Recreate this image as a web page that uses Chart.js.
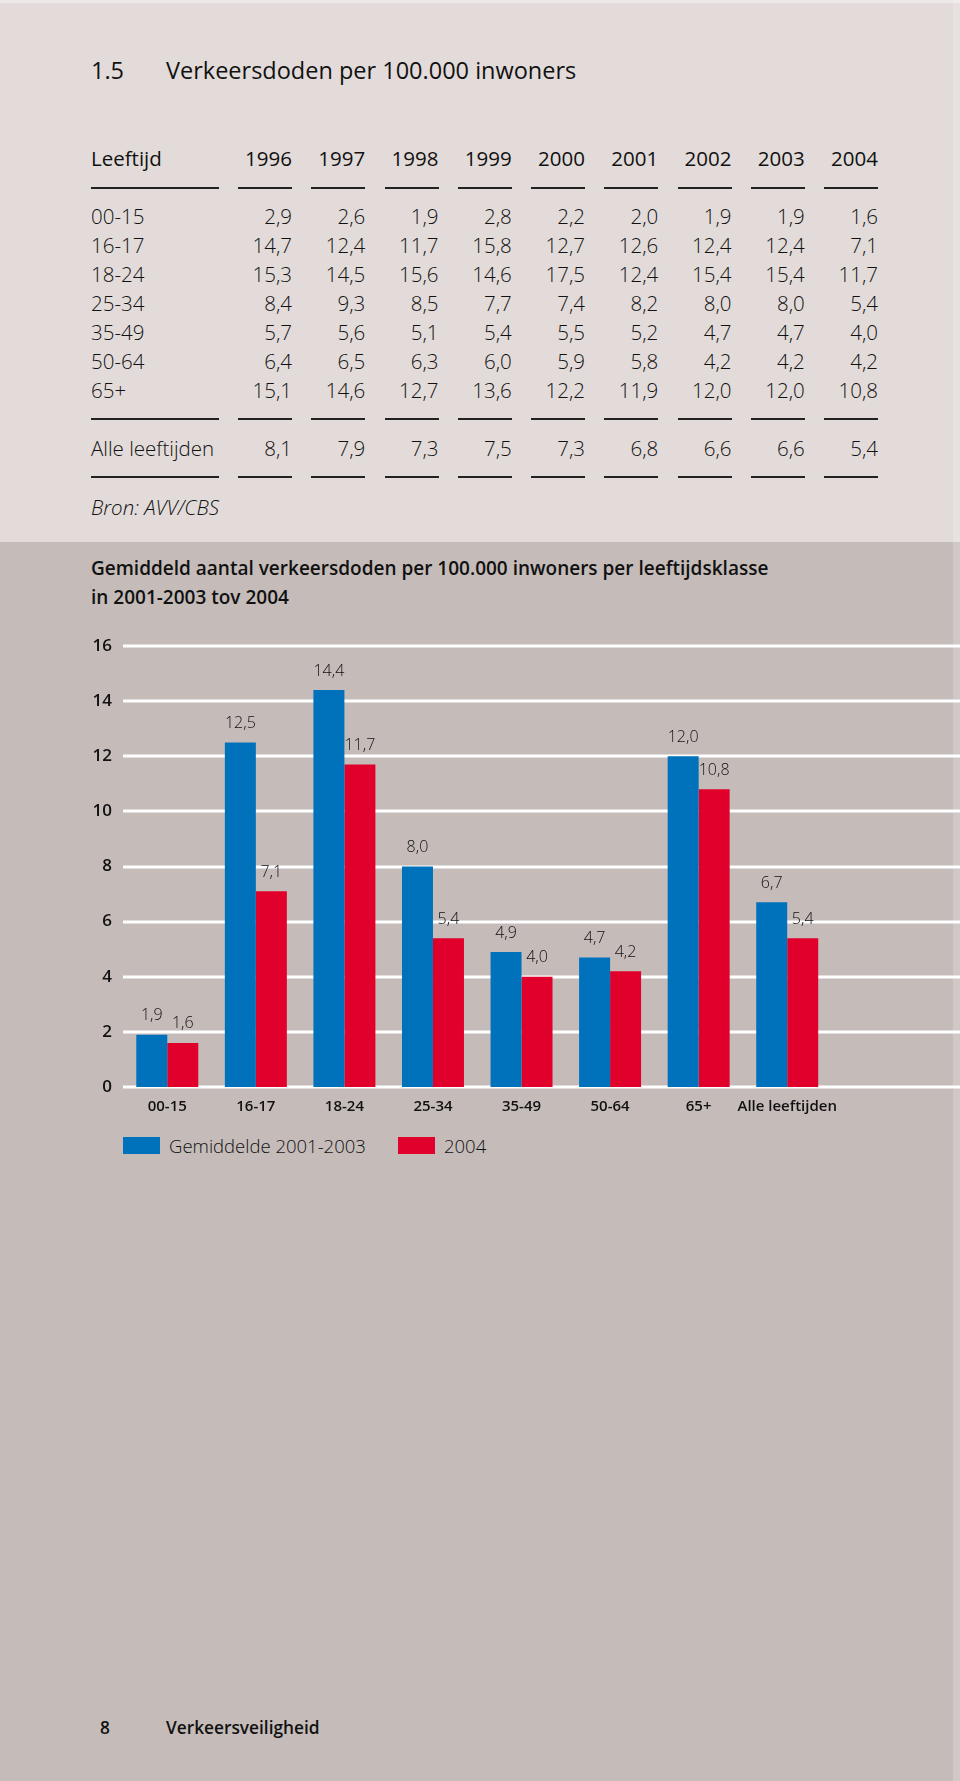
<!DOCTYPE html>
<html>
<head>
<meta charset="utf-8">
<script src="https://cdn.jsdelivr.net/npm/chart.js@4/dist/chart.umd.min.js"></script>
<style>
  html, body { margin: 0; padding: 0; }
  body {
    width: 960px;
    height: 1781px;
    position: relative;
    overflow: hidden;
    background: #c5bcba;
    font-family: 'Open Sans', 'Noto Sans', sans-serif;
    color: #111;
  }
  #top {
    position: absolute;
    left: 0; top: 0;
    width: 960px; height: 542px;
    background: #e2dbd9;
  }
  .edge-top { position: absolute; left: 0; top: 0; width: 960px; height: 3px; background: rgba(255,255,255,0.4); }
  .edge-right { position: absolute; right: 0; top: 0; width: 7px; height: 1781px; background: rgba(255,255,255,0.18); }
  .abs { position: absolute; white-space: nowrap; }
  .title { font-size: 23.5px; font-weight: 500; height: 30px; line-height: 30px; }
  .cell { height: 30px; line-height: 30px; font-size: 20.5px; font-weight: 300; }
  .head { font-weight: 500; }
  .num { text-align: right; width: 70px; }
  .rule { position: absolute; height: 2px; background: #222; }
  .src { font-style: italic; font-weight: 300; font-size: 20.5px; height: 30px; line-height: 30px; }
  .ctitle { font-size: 19px; font-weight: 600; line-height: 29px; }
  #wrap { position: absolute; left: 0; top: 620px; width: 960px; height: 507px; }
  .lg-box { position: absolute; width: 37px; height: 17px; }
  .lg-txt { font-size: 18.5px; font-weight: 300; height: 24px; line-height: 24px; }
  .foot { font-size: 17.3px; font-weight: 600; height: 24px; line-height: 24px; }
</style>
</head>
<body>
<div id="top"></div>
<div id="table"></div>
<div class="abs ctitle" style="left:91px; top:554px;">Gemiddeld aantal verkeersdoden per 100.000 inwoners per leeftijdsklasse<br>in 2001-2003 tov 2004</div>
<div id="wrap"><canvas id="chart"></canvas></div>
<div id="legend"></div>
<div class="abs foot" style="left:100px; top:1716px;">8</div>
<div class="abs foot" style="left:166px; top:1716px;">Verkeersveiligheid</div>
<div class="edge-top"></div>
<div class="edge-right"></div>

<script>
// table data
const years = ['1996', '1997', '1998', '1999', '2000', '2001', '2002', '2003', '2004']
const ageGroups = ['00-15', '16-17', '18-24', '25-34', '35-49', '50-64', '65+']
const rate0015 = [2.9, 2.6, 1.9, 2.8, 2.2, 2.0, 1.9, 1.9, 1.6]
const rate1617 = [14.7, 12.4, 11.7, 15.8, 12.7, 12.6, 12.4, 12.4, 7.1]
const rate1824 = [15.3, 14.5, 15.6, 14.6, 17.5, 12.4, 15.4, 15.4, 11.7]
const rate2534 = [8.4, 9.3, 8.5, 7.7, 7.4, 8.2, 8.0, 8.0, 5.4]
const rate3549 = [5.7, 5.6, 5.1, 5.4, 5.5, 5.2, 4.7, 4.7, 4.0]
const rate5064 = [6.4, 6.5, 6.3, 6.0, 5.9, 5.8, 4.2, 4.2, 4.2]
const rate65plus = [15.1, 14.6, 12.7, 13.6, 12.2, 11.9, 12.0, 12.0, 10.8]
const rateAll = [8.1, 7.9, 7.3, 7.5, 7.3, 6.8, 6.6, 6.6, 5.4]

// chart data
const categories = ['00-15', '16-17', '18-24', '25-34', '35-49', '50-64', '65+', 'Alle leeftijden']
const avg2001to2003 = [1.9, 12.5, 14.4, 8.0, 4.9, 4.7, 12.0, 6.7]
const values2004 = [1.6, 7.1, 11.7, 5.4, 4.0, 4.2, 10.8, 5.4]
const yTicks = [0, 2, 4, 6, 8, 10, 12, 14, 16]

const blue = '#0071bb'
const red = '#e0002b'

const fmt = v => v.toFixed(1).replace('.', ',')

// build the table
const table = document.getElementById('table')
const colRight = i => 292 + i * 73.25
const rowCenter = i => 216 + i * 29

function addText (txt, cls, left, centerY, right) {
  const d = document.createElement('div')
  d.className = 'abs ' + cls
  d.textContent = txt
  d.style.top = (centerY - 15) + 'px'
  if (right) {
    d.style.left = (left - 70) + 'px'
  } else {
    d.style.left = left + 'px'
  }
  table.appendChild(d)
}

function addRules (y) {
  const first = document.createElement('div')
  first.className = 'rule'
  first.style.left = '91px'
  first.style.width = '128px'
  first.style.top = (y - 1) + 'px'
  table.appendChild(first)
  years.forEach((yr, i) => {
    const r = document.createElement('div')
    r.className = 'rule'
    r.style.left = (colRight(i) - 54) + 'px'
    r.style.width = '54px'
    r.style.top = (y - 1) + 'px'
    table.appendChild(r)
  })
}

addText('1.5', 'title', 91, 70)
addText('Verkeersdoden per 100.000 inwoners', 'title', 166, 70)

addText('Leeftijd', 'cell head', 91, 158)
years.forEach((yr, i) => addText(yr, 'cell head num', colRight(i), 158, true))
addRules(188)

const tableRows = [rate0015, rate1617, rate1824, rate2534, rate3549, rate5064, rate65plus]
tableRows.forEach((row, r) => {
  addText(ageGroups[r], 'cell', 91, rowCenter(r))
  row.forEach((v, i) => addText(fmt(v), 'cell num', colRight(i), rowCenter(r), true))
})
addRules(419)
addText('Alle leeftijden', 'cell', 91, 448)
rateAll.forEach((v, i) => addText(fmt(v), 'cell num', colRight(i), 448, true))
addRules(477)
addText('Bron: AVV/CBS', 'src', 91, 507)

// white grid lines that run to the right edge of the page
const gridPlugin = {
  id: 'fullGrid',
  beforeDatasetsDraw (chart) {
    const { ctx, chartArea, scales } = chart
    ctx.save()
    ctx.strokeStyle = '#ffffff'
    ctx.lineWidth = 3
    scales.y.ticks.forEach(t => {
      const y = Math.round(scales.y.getPixelForValue(t.value))
      ctx.beginPath()
      ctx.moveTo(chartArea.left, y)
      ctx.lineTo(chart.width, y)
      ctx.stroke()
    })
    ctx.restore()
  }
}

// value labels above the bars
const valueLabels = {
  id: 'valueLabels',
  afterDatasetsDraw (chart) {
    const { ctx } = chart
    ctx.save()
    ctx.font = '300 16px "Open Sans", "Noto Sans", sans-serif'
    ctx.fillStyle = '#111'
    ctx.textAlign = 'center'
    ctx.textBaseline = 'middle'
    chart.data.datasets.forEach((ds, di) => {
      chart.getDatasetMeta(di).data.forEach((bar, i) => {
        ctx.fillText(fmt(ds.data[i]), bar.x, bar.y - 19)
      })
    })
    ctx.restore()
  }
}

const chart = new Chart(document.getElementById('chart').getContext('2d'), {
  type: 'bar',
  data: {
    labels: categories,
    datasets: [
      { label: 'Gemiddelde 2001-2003', data: avg2001to2003, backgroundColor: blue },
      { label: '2004', data: values2004, backgroundColor: red }
    ]
  },
  options: {
    responsive: true,
    maintainAspectRatio: false,
    animation: false,
    categoryPercentage: 0.7,
    barPercentage: 1.0,
    layout: {
      padding: { top: 26, right: 128.5, left: 0, bottom: 0 }
    },
    plugins: {
      legend: { display: false },
      tooltip: { enabled: false }
    },
    scales: {
      x: {
        grid: { display: false, drawTicks: false },
        border: { display: false },
        ticks: {
          color: '#111',
          padding: 11,
          maxRotation: 0,
          autoSkip: false,
          font: { family: '"Open Sans", "Noto Sans", sans-serif', size: 15, weight: 600 }
        },
        afterFit (scale) { scale.height = 40 }
      },
      y: {
        min: 0,
        max: 16,
        afterBuildTicks (scale) { scale.ticks = yTicks.map(v => ({ value: v })) },
        grid: { display: false, drawTicks: false },
        border: { display: false },
        ticks: {
          color: '#111',
          padding: 11,
          font: { family: '"Open Sans", "Noto Sans", sans-serif', size: 17, weight: 600 }
        },
        afterFit (scale) { scale.width = 123 }
      }
    }
  },
  plugins: [gridPlugin, valueLabels]
})

// legend built from the datasets
const legend = document.getElementById('legend')
const legendX = [123, 398]
chart.data.datasets.forEach((ds, i) => {
  const box = document.createElement('div')
  box.className = 'lg-box'
  box.style.left = legendX[i] + 'px'
  box.style.top = '1137px'
  box.style.background = ds.backgroundColor
  legend.appendChild(box)
  const t = document.createElement('div')
  t.className = 'abs lg-txt'
  t.style.left = (legendX[i] + 46) + 'px'
  t.style.top = '1134px'
  t.textContent = ds.label
  legend.appendChild(t)
})
</script>
</body>
</html>
